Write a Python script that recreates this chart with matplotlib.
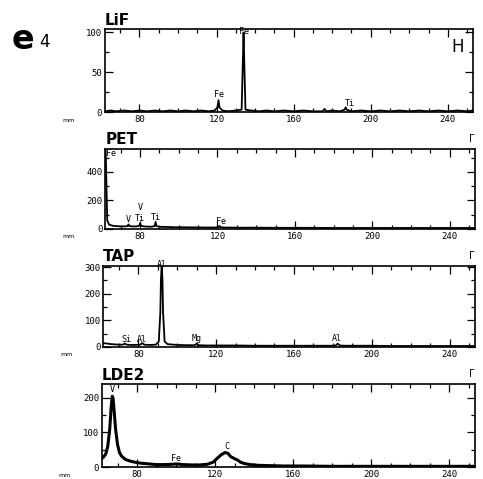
from matplotlib import pyplot as plt
import numpy as np

## spectra (x = mm, y = counts)
lif_x = [62, 65, 68, 72, 76, 80, 84, 88, 92, 96, 100, 104, 108, 112, 116, 119, 120.5, 121, 121.5, 123,
         126, 130, 133, 133.6, 134, 134.4, 135, 138, 142, 146, 150, 155, 160, 165, 170, 175, 176, 177,
         180, 184, 186.5, 187, 187.5, 190, 195, 200, 205, 210, 215, 220, 225, 230, 235, 240, 245, 250, 253]
lif_y = [1, 2, 1, 2, 1, 2, 1, 2, 1, 2, 1, 2, 1, 2, 1, 2, 6, 15, 6, 2,
         1, 2, 3, 60, 100, 60, 3, 2, 1, 2, 1, 2, 1, 2, 1, 1, 4, 1,
         2, 1, 3, 6, 3, 1, 2, 1, 2, 1, 2, 1, 2, 1, 2, 1, 2, 1, 2]

pet_x = [62.2, 62.6, 63, 64, 66, 68, 70, 72, 73.5, 74, 74.5, 76, 78, 79.5, 80, 80.5, 82, 84, 86, 87.5,
         88, 88.5, 90, 94, 98, 102, 106, 110, 114, 118, 120.5, 121, 121.5, 124, 130, 140, 150, 160, 170,
         180, 190, 200, 210, 220, 230, 240, 250, 253]
pet_y = [560, 300, 60, 30, 22, 20, 18, 18, 20, 32, 20, 18, 18, 22, 40, 22, 18, 16, 16, 20,
         50, 20, 15, 14, 12, 12, 11, 11, 10, 10, 12, 22, 12, 10, 9, 9, 8, 8, 8,
         7, 7, 7, 7, 7, 7, 7, 7, 7]

tap_x = [62, 64, 66, 68, 70, 72, 73, 74, 76, 78, 81, 82, 83, 86, 89, 90.5, 91.3, 91.6, 92, 92.4,
         92.7, 93.5, 95, 100, 105, 109, 110, 111, 115, 120, 130, 140, 150, 160, 170, 180, 181.5,
         182.5, 183.5, 186, 190, 200, 210, 220, 230, 240, 250, 253]
tap_y = [14, 12, 10, 9, 8, 8, 12, 8, 7, 7, 8, 14, 8, 7, 8, 20, 130, 250, 310, 250,
         130, 20, 10, 7, 6, 6, 12, 6, 5, 5, 5, 4, 4, 4, 4, 4, 5,
         12, 5, 4, 4, 4, 3, 3, 3, 3, 3, 3]

lde_x = [62, 63, 64, 65, 66, 66.7, 67.3, 67.7, 68.3, 69, 70, 71, 72, 74, 76, 78, 82, 86, 90, 94,
         98, 100, 104, 108, 112, 116, 119, 121, 123, 125, 126.5, 128, 130, 131.5, 133, 135, 138,
         142, 148, 155, 165, 180, 200, 220, 240, 253]
lde_y = [25, 30, 38, 60, 110, 170, 205, 200, 160, 110, 65, 42, 32, 22, 18, 15, 11, 9, 7, 7,
         8, 9, 7, 6, 6, 8, 14, 25, 35, 42, 40, 30, 24, 20, 14, 10, 7,
         5, 4, 3, 3, 2, 2, 2, 2, 2]

panels = ["LiF", "PET", "TAP", "LDE2"]
xs = [lif_x, pet_x, tap_x, lde_x]
ys = [lif_y, pet_y, tap_y, lde_y]
ylims = [104, 560, 305, 240]
yticks = [[0, 50, 100], [0, 200, 400], [0, 100, 200, 300], [0, 100, 200]]
yminor = [25, 100, 50, 50]
widths = [1.3, 1.3, 1.3, 2.2]

## peak labels: (panel, text, x, y)
peak_labels = [
    (0, "Fe", 134, 96), (0, "Fe", 121, 17), (0, "Ti", 189, 5),
    (1, "Fe", 65, 500), (1, "V", 74, 32), (1, "V", 80, 120), (1, "Ti", 80, 42),
    (1, "Ti", 88, 52), (1, "Fe", 122, 18),
    (2, "Al", 92, 292), (2, "Si", 74, 12), (2, "Al", 82, 12), (2, "Mg", 110, 14), (2, "Al", 182, 14),
    (3, "V", 67.5, 212), (3, "Fe", 100, 11), (3, "C", 126, 46),
]

## axes boxes [left, bottom, width, height] in figure fraction
boxes = [[0.217, 0.766, 0.762, 0.173],
         [0.218, 0.522, 0.765, 0.167],
         [0.214, 0.276, 0.769, 0.169],
         [0.211, 0.025, 0.772, 0.173]]

fig = plt.figure(figsize=(4.83, 4.79), dpi=100)
mono = "DejaVu Sans Mono"

for i in range(4):
    ax = fig.add_axes(boxes[i])
    ax.plot(xs[i], ys[i], color="black", lw=widths[i])
    ax.set_xlim(62, 253)
    ax.set_ylim(0, ylims[i])
    ax.set_xticks([80, 120, 160, 200, 240])
    ax.set_xticks(np.arange(70, 253, 10), minor=True)
    ax.set_yticks(yticks[i])
    ax.set_yticks(np.arange(0, ylims[i], yminor[i]), minor=True)
    ax.tick_params(which="both", direction="in", top=True, right=True, width=0.9,
                   labelsize=6.5, pad=2)
    ax.tick_params(which="major", length=6)
    ax.tick_params(which="minor", length=3)
    for lab in ax.get_xticklabels() + ax.get_yticklabels():
        lab.set_family(mono)
    for sp in ax.spines.values():
        sp.set_linewidth(1.2)
    ax.text(0.0, 1.02, panels[i], transform=ax.transAxes, fontsize=11, fontweight="bold",
            ha="left", va="bottom", family="DejaVu Sans")
    ax.text(-0.1, -0.1, "mm", transform=ax.transAxes, fontsize=4.5, ha="center", va="center")
    if i > 0:
        ax.text(1.0, 1.06, "Γ", transform=ax.transAxes, fontsize=7, ha="right", va="bottom")
    for p, t, px, py in peak_labels:
        if p == i:
            ax.text(px, py, t, fontsize=6, family=mono, ha="center", va="bottom")

fig.axes[0].text(0.975, 0.9, "H", transform=fig.axes[0].transAxes, fontsize=12,
                 ha="right", va="top")

fig.text(0.025, 0.917, "e", fontsize=24, fontweight="bold", ha="left", va="center")
fig.text(0.082, 0.912, "4", fontsize=12, ha="left", va="center")

plt.savefig("out.png", dpi=100)
